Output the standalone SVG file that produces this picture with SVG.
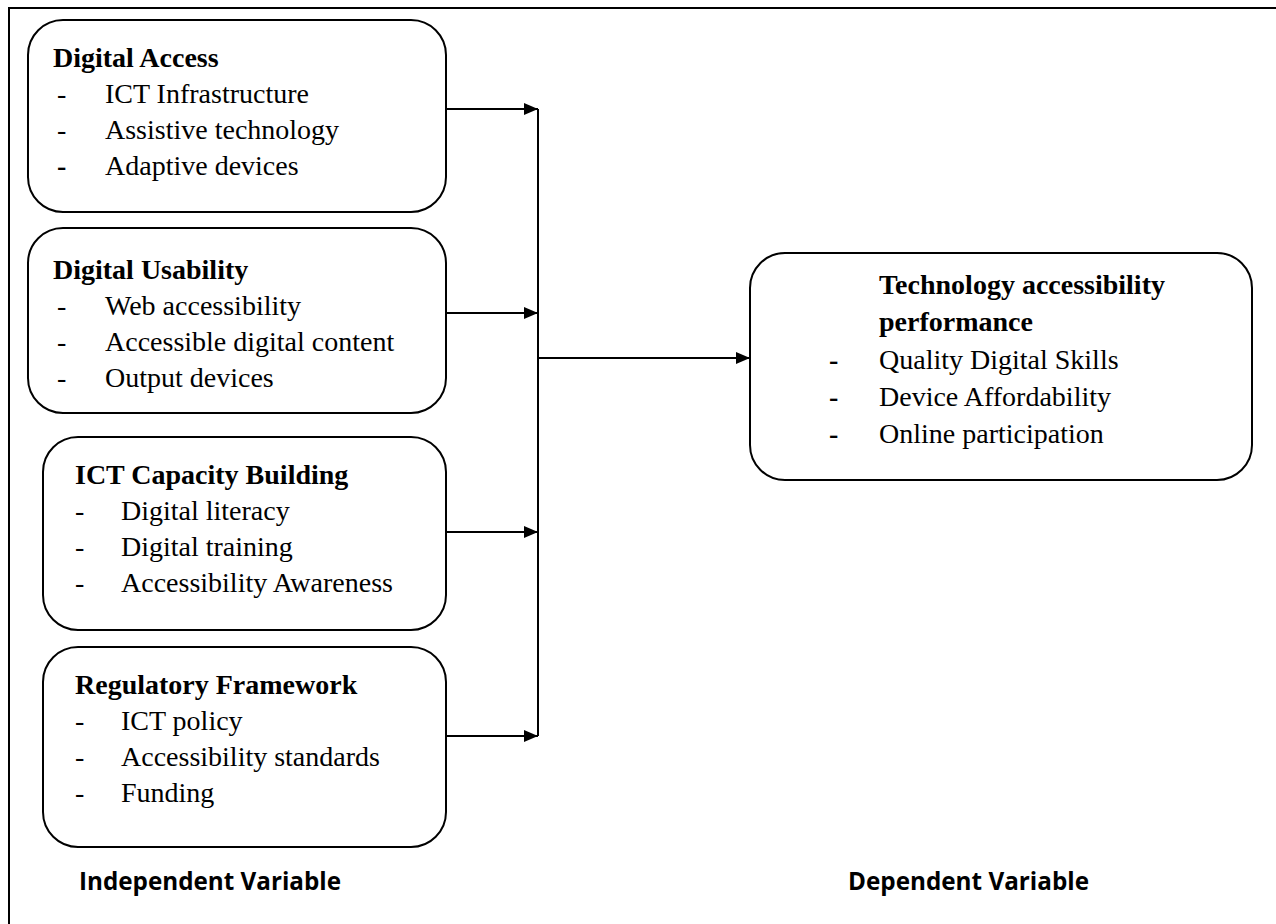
<svg xmlns="http://www.w3.org/2000/svg" width="1276" height="924" viewBox="0 0 1276 924">
<defs>
<marker id="ah" markerWidth="14" markerHeight="12" refX="14" refY="6" orient="auto" markerUnits="userSpaceOnUse">
<path d="M0,0 L14,6 L0,12 Z" fill="#000"/>
</marker>
<style>
.box{fill:#fff;stroke:#000;stroke-width:2}
.t{font-family:"Liberation Serif","Times New Roman",serif;font-size:28px;font-weight:bold;fill:#000}
.i{font-family:"Liberation Serif","Times New Roman",serif;font-size:28px;fill:#000}
.b{font-weight:bold}
.lab{font-family:"Open Sans","Liberation Sans",sans-serif;font-size:25px;font-weight:bold;fill:#000}
.c{stroke:#000;stroke-width:2;fill:none}
</style>
</defs>
<rect width="1276" height="924" fill="#fff"/>
<path class="c" d="M9,924 V8 H1276"/>
<g id="n1">
<rect class="box" x="28" y="20" width="418" height="192" rx="35"/>
<text class="t" x="53" y="67">Digital Access</text>
<text class="i" x="57" y="103">-</text><text class="i" x="105" y="103">ICT Infrastructure</text>
<text class="i" x="57" y="139">-</text><text class="i" x="105" y="139">Assistive technology</text>
<text class="i b" x="57" y="175">-</text><text class="i" x="105" y="175">Adaptive devices</text>
</g>
<g id="n2">
<rect class="box" x="28" y="228" width="418" height="185" rx="35"/>
<text class="t" x="53" y="279">Digital Usability</text>
<text class="i" x="57" y="315">-</text><text class="i" x="105" y="315">Web accessibility</text>
<text class="i" x="57" y="351">-</text><text class="i" x="105" y="351">Accessible digital content</text>
<text class="i" x="57" y="387">-</text><text class="i" x="105" y="387">Output devices</text>
</g>
<g id="n3">
<rect class="box" x="43" y="437" width="403" height="193" rx="35"/>
<text class="t" x="75" y="484">ICT Capacity Building</text>
<text class="i" x="75" y="520">-</text><text class="i" x="121" y="520">Digital literacy</text>
<text class="i" x="75" y="556">-</text><text class="i" x="121" y="556">Digital training</text>
<text class="i" x="75" y="592">-</text><text class="i" x="121" y="592">Accessibility Awareness</text>
</g>
<g id="n4">
<rect class="box" x="43" y="647" width="403" height="200" rx="35"/>
<text class="t" x="75" y="694">Regulatory Framework</text>
<text class="i" x="75" y="730">-</text><text class="i" x="121" y="730">ICT policy</text>
<text class="i" x="75" y="766">-</text><text class="i" x="121" y="766">Accessibility standards</text>
<text class="i" x="75" y="802">-</text><text class="i" x="121" y="802">Funding</text>
</g>
<g id="n5">
<rect class="box" x="750" y="253" width="502" height="227" rx="35"/>
<text class="t" x="879" y="294">Technology accessibility</text>
<text class="t" x="879" y="331">performance</text>
<text class="i b" x="829" y="369">-</text><text class="i" x="879" y="369">Quality Digital Skills</text>
<text class="i b" x="829" y="406">-</text><text class="i" x="879" y="406">Device Affordability</text>
<text class="i b" x="829" y="443">-</text><text class="i" x="879" y="443">Online participation</text>
</g>
<g id="labels">
<text class="lab" x="79" y="890" textLength="262" lengthAdjust="spacingAndGlyphs">Independent Variable</text>
<text class="lab" x="848" y="890" textLength="241" lengthAdjust="spacingAndGlyphs">Dependent Variable</text>
</g>
<g id="connectors">
<line class="c" x1="538" y1="109" x2="538" y2="736"/>
<line class="c" x1="446" y1="109" x2="538" y2="109" marker-end="url(#ah)"/>
<line class="c" x1="446" y1="313" x2="538" y2="313" marker-end="url(#ah)"/>
<line class="c" x1="446" y1="532" x2="538" y2="532" marker-end="url(#ah)"/>
<line class="c" x1="446" y1="736" x2="538" y2="736" marker-end="url(#ah)"/>
<line class="c" x1="538" y1="358" x2="750" y2="358" marker-end="url(#ah)"/>
</g>
</svg>
